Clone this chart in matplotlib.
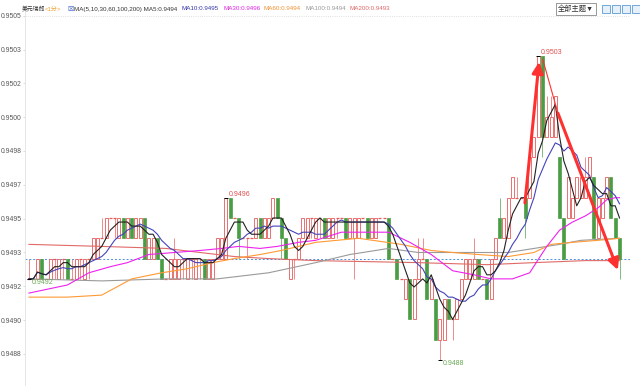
import numpy as np
import pandas as pd
import matplotlib
matplotlib.use('Agg')
import matplotlib.pyplot as plt
from matplotlib.patches import Rectangle
from matplotlib.ticker import FormatStrFormatter

plt.rcParams['font.family'] = ['Liberation Sans', 'Noto Sans CJK SC', 'DejaVu Sans']

# USD/CHF 1-minute candles, quoted as 0.0001 steps above 0.9490
base = 0.9490
step = 0.0001
opens = [2, 2, 2, 3, 2, 2, 3, 2, 3, 3, 2, 2, 3, 2, 3, 3, 3, 4, 4, 5,
         5, 4, 5, 4, 5, 4, 4, 5, 3, 3, 4, 3, 2, 2, 2, 2, 3, 2, 3, 2,
         3, 3, 2, 2, 3, 3, 3, 6, 5, 5, 4, 4, 4, 4, 5, 4, 4, 5, 6, 5,
         4, 2, 3, 3, 4, 4, 5, 4, 5, 5, 4, 4, 5, 5, 5, 4, 4, 4, 5, 5,
         4, 4, 5, 5, 5, 3, 3, 2, 1, 2, 0, 2, 3, 3, 1, 1, -1, -1, 1, 0,
         0, 1, 2, 2, 2, 3, 2, 2, 1, 3, 5, 4, 4, 6, 6, 6, 6, 6, 8, 9,
         13, 9, 9, 9, 8, 5, 5, 5, 6, 6, 6, 7, 7, 4, 5, 6, 7, 5, 4]
highs = [3, 2, 3, 3, 2, 3, 3, 3, 3, 3, 3, 3, 3, 3, 3, 4, 4, 5, 5, 5,
         5, 5, 5, 5, 5, 5, 5, 5, 4, 4, 4, 3, 2, 3, 4, 3, 3, 3, 3, 3,
         3, 3, 3, 3, 4, 4, 6, 6, 5, 5, 4, 4, 4, 5, 5, 5, 5, 6, 6, 5,
         4, 3, 3, 4, 5, 5, 5, 5, 5, 5, 5, 5, 5, 5, 5, 5, 5, 5, 5, 5,
         5, 5, 5, 5, 5, 3, 3, 2, 2, 2, 2, 4, 4, 3, 2, 1, 0, 1, 1, 0,
         1, 2, 3, 3, 4, 3, 2, 2, 3, 4, 6, 5, 6, 7, 7, 6, 6, 8, 9, 13,
         13, 11, 11, 11, 8, 5, 7, 6, 7, 7, 8, 8, 7, 6, 6, 7, 7, 5, 4]
lows = [2, 2, 2, 2, 2, 2, 2, 2, 2, 2, 2, 2, 2, 2, 2, 3, 3, 4, 4, 5,
        4, 4, 4, 4, 4, 4, 4, 3, 3, 3, 3, 2, 2, 2, 2, 2, 2, 2, 2, 2,
        2, 2, 2, 2, 3, 3, 3, 5, 5, 3, 4, 3, 4, 4, 4, 4, 4, 5, 5, 3,
        3, 2, 2, 3, 4, 4, 4, 4, 4, 4, 4, 4, 4, 5, 4, 4, 2, 4, 5, 4,
        4, 4, 5, 5, 3, 3, 2, 2, 1, 0, 0, 2, 3, 1, 1, -1, -2, -1, 0, -1,
        0, 1, 2, 2, 2, 2, 2, 1, 1, 3, 4, 4, 4, 6, 6, 6, 4, 6, 8, 9,
        8, 9, 9, 9, 5, 3, 5, 5, 6, 6, 6, 7, 4, 4, 5, 6, 5, 4, 2]
closes = [2, 2, 3, 2, 2, 3, 3, 3, 3, 2, 2, 3, 3, 3, 3, 4, 4, 4, 5, 5,
          5, 5, 4, 5, 4, 5, 5, 3, 4, 4, 3, 2, 2, 3, 3, 3, 3, 3, 3, 3,
          3, 2, 3, 3, 4, 4, 6, 5, 5, 4, 4, 4, 4, 5, 4, 5, 5, 6, 5, 4,
          3, 3, 3, 4, 5, 5, 5, 5, 5, 4, 5, 5, 5, 5, 4, 5, 5, 5, 5, 4,
          5, 5, 5, 5, 3, 3, 2, 2, 2, 0, 2, 3, 3, 1, 2, -1, 0, 1, 0, 0,
          1, 2, 3, 3, 3, 2, 2, 1, 3, 4, 4, 5, 6, 7, 6, 6, 5, 8, 9, 13,
          9, 10, 10, 11, 5, 3, 7, 6, 7, 7, 7, 8, 4, 6, 6, 7, 5, 4, 3]

# longer averages (candle index, price)
ma30_idx = [0, 9, 14, 19, 23, 28, 34, 40, 45, 49, 54, 58, 63, 67, 73, 77, 84, 87, 89,
            94, 99, 104, 108, 113, 117, 121, 124, 127, 130, 133, 135, 137, 138]
ma30_val = [0.94913, 0.94917, 0.94923, 0.94926, 0.94928, 0.94932, 0.94933, 0.94934,
            0.94935, 0.94936, 0.94935, 0.94936, 0.94938, 0.94939, 0.94943, 0.94943,
            0.94943, 0.94940, 0.94938, 0.94932, 0.94924, 0.94922, 0.94920, 0.94920,
            0.94923, 0.94936, 0.94944, 0.94948, 0.94951, 0.94955, 0.94959, 0.94960, 0.94960]
ma60_idx = [0, 9, 17, 24, 31, 37, 43, 48, 54, 59, 67, 77, 87, 94, 99, 105, 112, 118,
            122, 127, 133, 138]
ma60_val = [0.94911, 0.94911, 0.94912, 0.94920, 0.94923, 0.94925, 0.94928, 0.94930,
            0.94932, 0.94934, 0.94938, 0.94940, 0.94937, 0.94934, 0.94933, 0.94932,
            0.94931, 0.94933, 0.94937, 0.94938, 0.94939, 0.94940]
ma100_idx = [0, 17, 32, 44, 56, 67, 75, 84, 91, 99, 107, 112, 118, 124, 129, 138]
ma100_val = [0.94920, 0.94919, 0.94920, 0.94920, 0.94923, 0.94928, 0.94932, 0.94935,
             0.94933, 0.94933, 0.94933, 0.94933, 0.94935, 0.94937, 0.94939, 0.94940]
ma200_idx = [0, 17, 32, 40, 48, 56, 67, 91, 107, 118, 130, 138]
ma200_val = [0.94937, 0.94936, 0.94935, 0.94933, 0.94931, 0.94930, 0.94929, 0.94928,
             0.94927, 0.94928, 0.94929, 0.94929]

legend_parts = ['MA(5,10,30,60,100,200) MA5:0.9494', 'MA10:0.9495', 'MA30:0.9496',
                'MA60:0.9494', 'MA100:0.9494', 'MA200:0.9493']
marked = [(0, 'low'), (46, 'high'), (119, 'high'), (96, 'low')]

RED = '#e65a5a'
GREEN = '#4a9d45'

op = base + np.array(opens) * step
hi = base + np.array(highs) * step
lo = base + np.array(lows) * step
cl = base + np.array(closes) * step
n = len(cl)
idx = np.arange(n)

s = pd.Series(cl)
ma5 = s.rolling(5, min_periods=1).mean()
ma10 = s.rolling(10, min_periods=1).mean()

fig = plt.figure(figsize=(6.4, 3.9), dpi=100)
ax = fig.add_axes([25 / 640, 5 / 390, 605 / 640, 375 / 390])

W = 0.7
for i in range(n):
    o, h, l, c = op[i], hi[i], lo[i], cl[i]
    if c > o:
        col = RED
        ax.add_patch(Rectangle((i - W / 2, o), W, c - o, facecolor='white',
                               edgecolor=col, lw=0.6, zorder=3))
    elif c < o:
        col = GREEN
        ax.add_patch(Rectangle((i - W / 2, c), W, o - c, facecolor=col,
                               edgecolor=col, lw=0.5, zorder=3))
    else:
        col = RED
        ax.hlines(o, i - W / 2, i + W / 2, color=col, lw=0.9, zorder=3)
    top, bot = max(o, c), min(o, c)
    if h > top:
        ax.vlines(i, top, h, color=col, lw=0.6, alpha=0.8, zorder=2)
    if l < bot:
        ax.vlines(i, l, bot, color=col, lw=0.6, alpha=0.8, zorder=2)

ax.plot(ma200_idx, ma200_val, color='#e06a66', lw=0.8, zorder=4)
ax.plot(ma100_idx, ma100_val, color='#9a9a9a', lw=0.8, zorder=4)
ax.plot(ma60_idx, ma60_val, color='#ff9933', lw=0.8, zorder=4)
ax.plot(ma30_idx, ma30_val, color='#ee22ee', lw=0.8, zorder=4)
ax.plot(idx, ma10, color='#4444bb', lw=0.8, zorder=5)
ax.plot(idx, ma5, color='#222222', lw=0.8, zorder=5)

# last price line
ax.axhline(cl[-1], color='#4a8fe0', lw=0.7, ls=(0, (2, 2)), zorder=1)

# high / low markers
for i, kind in marked:
    if kind == 'high':
        v, va, tc = hi[i], 'bottom', '#e05050'
    else:
        v, va, tc = lo[i], 'top', '#6aaa55'
    ax.hlines(v, i - 0.4, i + 0.5, color='black', lw=0.7, zorder=6)
    ax.text(i + 0.7, v, '%.4f' % v, color=tc, fontsize=5, va=va, ha='left', zorder=6)

# hand drawn arrows
ax.annotate('', xy=(119.2, 0.950269), xytext=(115.9, 0.949574),
            arrowprops=dict(arrowstyle='-|>,head_length=0.55,head_width=0.28', lw=2.2,
                            color='#ff3030', shrinkA=0, shrinkB=0, mutation_scale=12), zorder=7)
ax.plot([120.1, 123.6], [0.950279, 0.950017], color='#ff3030', lw=0.8, zorder=7)
ax.annotate('', xy=(137.6, 0.949244), xytext=(123.6, 0.950017),
            arrowprops=dict(arrowstyle='-|>,head_length=0.55,head_width=0.28', lw=2.2,
                            color='#ff3030', shrinkA=0, shrinkB=0, mutation_scale=12), zorder=7)

ticks = np.linspace(0.94883, 0.950497, 11)
ax.set_yticks(ticks)
ax.yaxis.set_major_formatter(FormatStrFormatter('%.4f'))
ax.axhline(ticks[-1], color='#d5d5d5', lw=0.6, ls=':', zorder=0)
ax.set_ylim(0.948677, 0.950525)
ax.set_xlim(-0.93, 140.45)
ax.set_xticks([])
for side in ['top', 'right', 'bottom']:
    ax.spines[side].set_visible(False)
ax.spines['left'].set_color('#e2e2e2')
ax.spines['left'].set_linewidth(0.6)
ax.tick_params(axis='y', labelsize=4.9, labelcolor='#555555', color='#cccccc',
               length=1.5, width=0.5, pad=0.8)

# header line
yh = 1 - 9 / 390
fig.text(22 / 640, yh, '美元瑞郎', fontsize=4.2, color='#333333', va='center')
fig.text(45 / 640, yh, '<1分>', fontsize=4.3, color='#f0a030', va='center')
fig.text(67 / 640, yh, '☒', fontsize=5, color='#3050c0', va='center')
head_x = [74, 182, 223, 263, 305, 349]
head_c = ['#333333', '#3333aa', '#e020e0', '#f09030', '#999999', '#e06666']
for x, t, c in zip(head_x, legend_parts, head_c):
    fig.text(x / 640, yh, t, fontsize=4.5, color=c, va='center')

fig.text(576 / 640, yh, '全部主题▼', fontsize=5.2, color='#333333', va='center', ha='center',
         bbox=dict(boxstyle='square,pad=0.25', fc='white', ec='#888888', lw=0.6))
for x in [602, 612, 622, 632]:
    fig.add_artist(Rectangle((x / 640, 1 - 13 / 390), 8 / 640, 8 / 390, transform=fig.transFigure,
                             facecolor='#e6f0fb', edgecolor='#5b9bd5', lw=0.6))

fig.savefig('out.png', dpi=100)
